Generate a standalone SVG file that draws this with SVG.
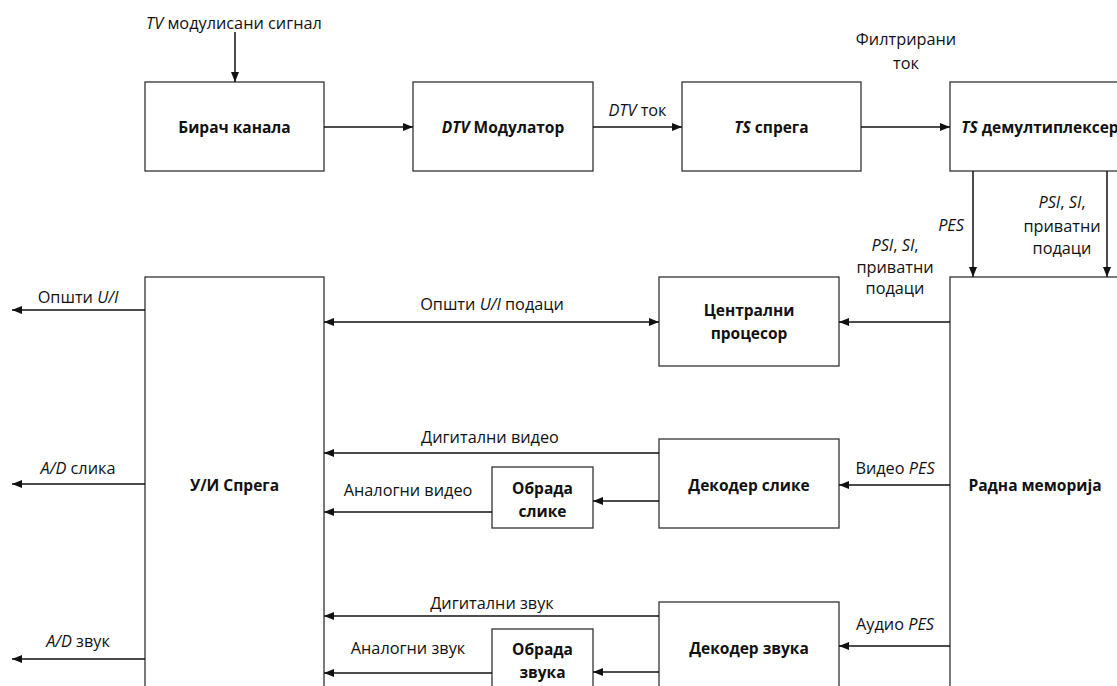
<svg xmlns="http://www.w3.org/2000/svg" width="1117" height="686" viewBox="0 0 1117 686">
  <style>
    text { font-family: "Open Sans", "Noto Sans", "DejaVu Sans", sans-serif; font-size: 16.3px; fill: #111; text-anchor: middle; }
    .b { font-weight: bold; font-size: 15.5px; }
    .i { font-style: italic; }
    .box { fill: #fff; stroke: #333; stroke-width: 1.3; }
    .ln { fill: none; stroke: #111; stroke-width: 1.5; }
  </style>
  <defs>
    <marker id="ah" viewBox="0 0 10 10" refX="10" refY="5" markerWidth="10" markerHeight="10" markerUnits="userSpaceOnUse" orient="auto-start-reverse">
      <path d="M0,1 L10,5 L0,9 Z" fill="#111"/>
    </marker>
  </defs>

  <rect width="1117" height="686" fill="#fff"/>

  <!-- top row -->
  <g id="birac">
    <rect class="box" x="145" y="82" width="179" height="89"/>
    <text class="b" x="234.5" y="133">Бирач канала</text>
  </g>
  <g id="dtv-modulator">
    <rect class="box" x="413" y="82" width="180" height="89"/>
    <text class="b" x="503" y="133"><tspan class="i">DTV</tspan> Модулатор</text>
  </g>
  <g id="ts-sprega">
    <rect class="box" x="682" y="82" width="179" height="89"/>
    <text class="b" x="771.5" y="133"><tspan class="i">TS</tspan> спрега</text>
  </g>
  <g id="ts-demux">
    <rect class="box" x="950" y="82" width="180" height="89"/>
    <text class="b" x="1040" y="133"><tspan class="i">TS</tspan> демултиплексер</text>
  </g>

  <!-- lower section -->
  <g id="ui-sprega">
    <rect class="box" x="145" y="277" width="179" height="420"/>
    <text class="b" x="234.5" y="491">У/И Спрега</text>
  </g>
  <g id="centralni">
    <rect class="box" x="659" y="277" width="180" height="89"/>
    <text class="b" x="749" y="316">Централни</text>
    <text class="b" x="749" y="339">процесор</text>
  </g>
  <g id="dekoder-slike">
    <rect class="box" x="659" y="439" width="180" height="89"/>
    <text class="b" x="749" y="491">Декодер слике</text>
  </g>
  <g id="obrada-slike">
    <rect class="box" x="492" y="467" width="101" height="61"/>
    <text class="b" x="542.5" y="494">Обрада</text>
    <text class="b" x="542.5" y="517">слике</text>
  </g>
  <g id="dekoder-zvuka">
    <rect class="box" x="659" y="602" width="180" height="100"/>
    <text class="b" x="749" y="654">Декодер звука</text>
  </g>
  <g id="obrada-zvuka">
    <rect class="box" x="492" y="629" width="101" height="70"/>
    <text class="b" x="542.5" y="655">Обрада</text>
    <text class="b" x="542.5" y="678">звука</text>
  </g>
  <g id="radna-memorija">
    <rect class="box" x="950" y="277" width="180" height="420"/>
    <text class="b" x="1035" y="491">Радна меморија</text>
  </g>

  <!-- connectors -->
  <g id="connectors">
    <line class="ln" x1="235" y1="32" x2="235" y2="82" marker-end="url(#ah)"/>
    <line class="ln" x1="324" y1="127" x2="413" y2="127" marker-end="url(#ah)"/>
    <line class="ln" x1="593" y1="127" x2="682" y2="127" marker-end="url(#ah)"/>
    <line class="ln" x1="861" y1="127" x2="950" y2="127" marker-end="url(#ah)"/>
    <line class="ln" x1="973" y1="171" x2="973" y2="277" marker-end="url(#ah)"/>
    <line class="ln" x1="1107" y1="171" x2="1107" y2="277" marker-end="url(#ah)"/>
    <line class="ln" x1="950" y1="322" x2="839" y2="322" marker-end="url(#ah)"/>
    <line class="ln" x1="324" y1="322" x2="659" y2="322" marker-start="url(#ah)" marker-end="url(#ah)"/>
    <line class="ln" x1="145" y1="310" x2="12" y2="310" marker-end="url(#ah)"/>
    <line class="ln" x1="145" y1="484" x2="12" y2="484" marker-end="url(#ah)"/>
    <line class="ln" x1="145" y1="659" x2="12" y2="659" marker-end="url(#ah)"/>
    <line class="ln" x1="659" y1="453" x2="324" y2="453" marker-end="url(#ah)"/>
    <line class="ln" x1="659" y1="501" x2="593" y2="501" marker-end="url(#ah)"/>
    <line class="ln" x1="492" y1="512" x2="324" y2="512" marker-end="url(#ah)"/>
    <line class="ln" x1="950" y1="485" x2="839" y2="485" marker-end="url(#ah)"/>
    <line class="ln" x1="950" y1="646" x2="839" y2="646" marker-end="url(#ah)"/>
    <line class="ln" x1="659" y1="616" x2="324" y2="616" marker-end="url(#ah)"/>
    <line class="ln" x1="659" y1="672" x2="593" y2="672" marker-end="url(#ah)"/>
    <line class="ln" x1="492" y1="673" x2="324" y2="673" marker-end="url(#ah)"/>
  </g>

  <!-- connector labels -->
  <g id="labels">
    <text x="234" y="29"><tspan class="i">TV</tspan> модулисани сигнал</text>
    <text x="637.5" y="116"><tspan class="i">DTV</tspan> ток</text>
    <text x="906" y="45">Филтрирани</text>
    <text x="906" y="69">ток</text>
    <text class="i" x="964" y="231" style="text-anchor:end">PES</text>
    <text x="1062" y="208"><tspan class="i">PSI</tspan>, <tspan class="i">SI</tspan>,</text>
    <text x="1062" y="232">приватни</text>
    <text x="1062" y="254">подаци</text>
    <text x="895" y="251"><tspan class="i">PSI</tspan>, <tspan class="i">SI</tspan>,</text>
    <text x="895" y="273">приватни</text>
    <text x="895" y="294">подаци</text>
    <text x="492" y="310">Општи <tspan class="i">U/I</tspan> подаци</text>
    <text x="78" y="303">Општи <tspan class="i">U/I</tspan></text>
    <text x="78" y="474"><tspan class="i">A/D</tspan> слика</text>
    <text x="78" y="647"><tspan class="i">A/D</tspan> звук</text>
    <text x="490" y="443">Дигитални видео</text>
    <text x="408" y="496">Аналогни видео</text>
    <text x="492" y="609">Дигитални звук</text>
    <text x="408" y="654">Аналогни звук</text>
    <text x="895" y="474">Видео <tspan class="i">PES</tspan></text>
    <text x="895" y="630">Аудио <tspan class="i">PES</tspan></text>
  </g>
</svg>
